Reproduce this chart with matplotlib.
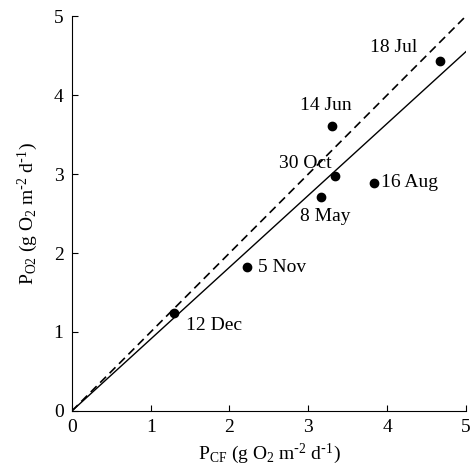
import numpy as np
import matplotlib
matplotlib.use('Agg')
import matplotlib.pyplot as plt

# Данни, отчетени от графиката
dates = ['8 May', '14 Jun', '18 Jul', '16 Aug', '30 Oct', '5 Nov', '12 Dec']
p_cf = [3.16, 3.30, 4.67, 3.84, 3.34, 2.22, 1.29]
p_o2 = [2.71, 3.61, 4.43, 2.89, 2.97, 1.82, 1.24]
fit_slope = 0.91

# Отместване на етикетите (пиксели) и подравняване
label_pos = {
    '8 May': (4, -20, 'center'),
    '14 Jun': (-6, 20, 'center'),
    '18 Jul': (-23, 14, 'right'),
    '16 Aug': (7, 0, 'left'),
    '30 Oct': (-30, 13, 'center'),
    '5 Nov': (11, 0, 'left'),
    '12 Dec': (12, -12, 'left'),
}

plt.rcParams['font.family'] = ['Liberation Serif', 'DejaVu Serif']
plt.rcParams['mathtext.default'] = 'regular'
plt.rcParams['font.size'] = 14

fig = plt.figure(figsize=(4.73, 4.74), dpi=100)
ax = fig.add_axes([0.152, 0.133, 0.833, 0.833])

xs = np.array([0, 5])
ax.plot(xs, xs, color='black', lw=1.2, ls=(0, (5, 3)))
ax.plot(xs, fit_slope * xs, color='black', lw=1.0)
ax.plot(p_cf, p_o2, 'o', color='black', ms=6)

for d, x, y in zip(dates, p_cf, p_o2):
    dx, dy, ha = label_pos[d]
    ax.annotate(d, (x, y), xytext=(dx, dy), textcoords='offset pixels',
                ha=ha, va='center', fontsize=14)

ax.set_xlim(0, 5)
ax.set_ylim(0, 5)
ax.set_xticks(range(6))
ax.set_yticks(range(6))
ax.tick_params(direction='in', length=4, width=0.8, labelsize=14, pad=6)
ax.spines['top'].set_visible(False)
ax.spines['right'].set_visible(False)
ax.set_xlabel(r'P$_{CF}$ (g O$_2$ m$^{\text{-}2}$ d$^{\text{-}1}$)', fontsize=14, labelpad=4)
ax.set_ylabel(r'P$_{O2}$ (g O$_2$ m$^{\text{-}2}$ d$^{\text{-}1}$)', fontsize=14, labelpad=10)

fig.savefig('out.png', dpi=100)
